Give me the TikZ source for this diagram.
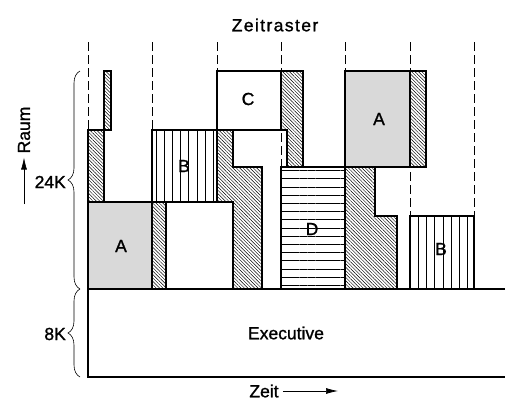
\documentclass[tikz,border=0pt]{standalone}
\usepackage{fontspec}
\setmainfont{Liberation Sans}[FakeBold=1.2]
\newfontfamily\titlefont{Liberation Sans}[LetterSpace=8,FakeBold=1.2]
\usetikzlibrary{patterns.meta,decorations.pathreplacing,arrows.meta}

\begin{document}
\begin{tikzpicture}[x=1pt,y=-1pt,
    every node/.style={font=\fontsize{17.5}{21}\selectfont},
    box/.style={line width=1.4pt},
    hatched/.style={box, preaction={fill=white},
      pattern={Lines[angle=-45,distance=2.4pt,line width=0.45pt]}},
    stippled/.style={box, fill=black!15},
    vstripes/.style={box, preaction={fill=white},
      pattern={Lines[angle=90,distance=8.2pt,line width=0.6pt]}},
    hstripes/.style={box, preaction={fill=white},
      pattern={Lines[angle=0,distance=8.2pt,line width=0.6pt]}},
    rasterline/.style={line width=0.6pt, dash pattern=on 9pt off 4pt},
    brace/.style={line width=0.6pt, decorate, decoration={brace, amplitude=12pt}},
    arrowline/.style={line width=0.7pt, -{Latex[length=12pt,width=6pt]}}]
        \useasboundingbox (0,0) rectangle (507,400);
        % Zeitraster -- dashed time slots
        \node (raster) at (275,25) {\titlefont Zeitraster};
        \foreach \x in {88,152,217,281,345,410,474}
          \draw[rasterline] (\x,42) -- (\x,289);
        % First slot
        \draw[hatched] (104,71) rectangle (111,130);
        \draw[hatched] (88,130) rectangle (104,202);
        \draw[stippled] (88,202) rectangle (152,289);
        \draw[hatched] (152,202) rectangle (166,289);
        \draw[box, fill=white] (166,202) rectangle (233,289);
        % Second and third slot
        \draw[vstripes] (152,130) rectangle (217,202);
        \draw[box, fill=white] (217,71) rectangle (281,130);
        \draw[hatched] (281,71) -- (303,71) -- (303,167) -- (287,167)
          -- (287,130) -- (281,130) -- cycle;
        \draw[box] (217,130) -- (287,130) -- (287,167);
        \draw[hatched] (217,130) -- (233,130) -- (233,167) -- (262,167)
          -- (262,289) -- (233,289) -- (233,202) -- (217,202) -- cycle;
        % Fourth to sixth slot
        \draw[hstripes] (281,167) rectangle (345,289);
        \draw[stippled] (345,71) rectangle (410,167);
        \draw[hatched] (410,71) rectangle (426,167);
        \draw[hatched] (345,167) -- (375,167) -- (375,216) -- (397,216)
          -- (397,289) -- (345,289) -- cycle;
        \draw[vstripes] (410,216) rectangle (474,289);
        % Executive
        \draw[box] (505,289) -- (88,289) -- (88,377) -- (505,377);
        % Labels
        \node (a1) at (121,246) {A};
        \node (b1) at (184,166) {B};
        \node (c) at (248,99) {C};
        \node (d) at (312,229) {D};
        \node (a2) at (379,119) {A};
        \node (b2) at (441,249) {B};
        \node (exec) at (286,333) {Executive};
        % Raum axis with braces
        \draw[brace] (80,289) -- (80,71);
        \draw[brace] (80,377) -- (80,289);
        \node[anchor=east, inner sep=1pt] (k24) at (67,182) {24K};
        \node[anchor=east, inner sep=1pt] (k8) at (67,334) {8K};
        \node[rotate=90, inner sep=4pt] (raum) at (24,130) {Raum};
        \coordinate (raumfoot) at (24,204);
        \draw[arrowline] (raumfoot) -- (raum.west);
        % Zeit axis
        \node[inner sep=4pt] (zeit) at (264,391) {Zeit};
        \coordinate (zeithead) at (338,391);
        \draw[arrowline] (zeit.east) -- (zeithead);
      \end{tikzpicture}
\end{document}
